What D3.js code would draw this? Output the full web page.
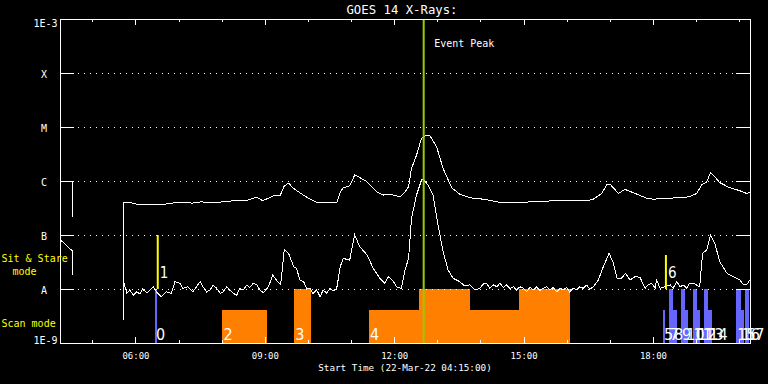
<!DOCTYPE html>
<html>
<head>
<meta charset="utf-8">
<script src="https://cdn.jsdelivr.net/npm/d3@7"></script>
<style>
  html, body { margin: 0; padding: 0; background: #000; }
  svg { display: block; }
</style>
</head>
<body>
<svg id="chart" width="768" height="384"></svg>
<script>
// GOES 14 X-ray flux, 22-Mar-22, with observation timeline underneath

const day = '2022-03-22';
const timeStart = '04:15';
const timeEnd = '20:15';
const eventPeak = '12:41';

// flare class levels
const classLabels = ['A', 'B', 'C', 'M', 'X'];
const classFlux = [1e-8, 1e-7, 1e-6, 1e-5, 1e-4];

// 1-8 A channel (null = data gap)
const longFlux = [
  ['04:15', 8.6e-7], ['04:16', 1.0e-6], ['04:32', 1.0e-6], ['04:33', 2.2e-7],
  null,
  ['05:43', 2.7e-9], ['05:44', 4.0e-7], ['05:52', 4.0e-7], ['06:02', 3.7e-7], ['06:16', 3.7e-7],
  ['06:34', 3.6e-7], ['06:52', 3.9e-7], ['06:57', 4.0e-7], ['07:20', 3.9e-7], ['07:30', 4.1e-7],
  ['07:53', 4.0e-7], ['08:16', 4.3e-7], ['08:35', 4.4e-7], ['08:49', 5.0e-7], ['08:57', 4.3e-7],
  ['09:12', 5.3e-7], ['09:21', 5.3e-7], ['09:27', 8.1e-7], ['09:33', 9.1e-7], ['09:40', 7.3e-7],
  ['09:49', 6.0e-7], ['10:03', 4.6e-7], ['10:12', 4.0e-7], ['10:40', 4.0e-7], ['10:45', 6.3e-7],
  ['10:49', 7.5e-7], ['10:58', 8.1e-7], ['11:05', 1.29e-6], ['11:10', 1.2e-6], ['11:22', 9.7e-7],
  ['11:36', 6.3e-7], ['11:45', 5.5e-7], ['11:54', 5.7e-7], ['12:08', 5.1e-7], ['12:15', 6.3e-7],
  ['12:20', 7.8e-7], ['12:24', 1.7e-6], ['12:31', 3.0e-6], ['12:38', 6.2e-6], ['12:43', 6.9e-6],
  ['12:50', 6.8e-6], ['12:59', 4.3e-6], ['13:08', 1.7e-6], ['13:20', 7.5e-7], ['13:31', 5.7e-7],
  ['13:45', 4.9e-7], ['14:04', 4.6e-7], ['14:13', 4.4e-7], ['14:27', 4.0e-7], ['14:50', 4.0e-7],
  ['15:09', 4.1e-7], ['15:41', 4.3e-7], ['16:28', 4.3e-7], ['16:37', 4.6e-7], ['16:49', 5.9e-7],
  ['16:56', 8.8e-7], ['17:01', 8.5e-7], ['17:12', 5.9e-7], ['17:21', 7.0e-7], ['17:35', 5.9e-7],
  ['17:51', 4.8e-7], ['18:00', 4.6e-7], ['18:24', 4.8e-7], ['18:51', 5.1e-7], ['19:01', 5.9e-7],
  ['19:08', 8.5e-7], ['19:15', 9.7e-7], ['19:20', 1.43e-6], ['19:26', 1.2e-6], ['19:33', 9.3e-7],
  ['19:47', 7.5e-7], ['20:01', 6.6e-7], ['20:10', 5.9e-7], ['20:15', 6.1e-7]
];

// 0.5-4 A channel
const shortFlux = [
  ['04:15', 8.1e-8], ['04:21', 7.1e-8], ['04:26', 6.0e-8], ['04:32', 5.1e-8], ['04:33', 1.8e-8],
  null,
  ['05:43', 5.1e-9], ['05:44', 1.3e-8], ['05:48', 8.4e-9], ['05:52', 9.6e-9], ['05:57', 7.7e-9],
  ['06:02', 8.9e-9], ['06:06', 8.1e-9], ['06:10', 9.9e-9], ['06:16', 8.5e-9], ['06:20', 9.6e-9],
  ['06:25', 1.1e-8], ['06:29', 8.9e-9], ['06:36', 7.2e-9], ['06:43', 8.9e-9], ['06:50', 8.3e-9],
  ['06:55', 1.37e-8], ['07:02', 1.28e-8], ['07:06', 1.03e-8], ['07:13', 1.1e-8], ['07:20', 8.9e-9],
  ['07:30', 1.37e-8], ['07:34', 1.1e-8], ['07:39', 8.8e-9], ['07:44', 9.6e-9], ['07:48', 1.19e-8],
  ['07:53', 1.03e-8], ['07:58', 8.3e-9], ['08:02', 8.9e-9], ['08:07', 1.1e-8], ['08:11', 9.6e-9],
  ['08:16', 8.3e-9], ['08:21', 7.7e-9], ['08:25', 1.03e-8], ['08:30', 9.6e-9], ['08:35', 1.19e-8],
  ['08:39', 1.07e-8], ['08:44', 1.28e-8], ['08:49', 1.19e-8], ['08:53', 9.6e-9], ['08:58', 8.5e-9],
  ['09:05', 1.1e-8], ['09:11', 1.8e-8], ['09:16', 1.47e-8], ['09:22', 1.19e-8], ['09:27', 5.3e-8],
  ['09:33', 4.6e-8], ['09:40', 2.6e-8], ['09:44', 2.4e-8], ['09:49', 1.47e-8], ['09:54', 1.37e-8],
  ['09:58', 1.03e-8], ['10:03', 1.03e-8], ['10:07', 8.3e-9], ['10:12', 9.6e-9], ['10:17', 7.2e-9],
  ['10:21', 9.6e-9], ['10:26', 8.4e-9], ['10:31', 1.03e-8], ['10:35', 9.2e-9], ['10:40', 1.03e-8],
  ['10:45', 2.6e-8], ['10:49', 3.7e-8], ['10:58', 3.4e-8], ['11:05', 1.0e-7], ['11:12', 6.1e-8],
  ['11:22', 4.3e-8], ['11:31', 2.4e-8], ['11:40', 1.58e-8], ['11:47', 1.28e-8], ['11:52', 1.69e-8],
  ['11:59', 1.37e-8], ['12:03', 1.1e-8], ['12:10', 1.03e-8], ['12:15', 2.25e-8], ['12:20', 3.7e-8],
  ['12:24', 2.0e-7], ['12:31', 5.5e-7], ['12:38', 1.04e-6], ['12:40', 1.09e-6], ['12:47', 8.4e-7],
  ['12:54', 5.5e-7], ['13:01', 1.53e-7], ['13:08', 4.9e-8], ['13:15', 2.25e-8], ['13:22', 1.58e-8],
  ['13:31', 1.37e-8], ['13:38', 1.14e-8], ['13:45', 1.19e-8], ['13:52', 9.6e-9], ['13:59', 1.03e-8],
  ['14:04', 1.24e-8], ['14:08', 1.28e-8], ['14:13', 1.04e-8], ['14:18', 1.19e-8], ['14:23', 1.1e-8],
  ['14:27', 1.28e-8], ['14:32', 1.07e-8], ['14:36', 1.19e-8], ['14:41', 1.03e-8], ['14:46', 1.1e-8],
  ['14:50', 9.6e-9], ['14:55', 1.1e-8], ['15:00', 1.03e-8], ['15:04', 8.9e-9], ['15:09', 1.07e-8],
  ['15:14', 9.6e-9], ['15:18', 1.1e-8], ['15:23', 9.2e-9], ['15:27', 1.03e-8], ['15:32', 1.1e-8],
  ['15:37', 9.6e-9], ['15:41', 1.07e-8], ['15:46', 8.9e-9], ['15:51', 1.03e-8], ['15:55', 9.6e-9],
  ['16:00', 1.07e-8], ['16:04', 8.8e-9], ['16:09', 1.03e-8], ['16:14', 9.6e-9], ['16:18', 1.1e-8],
  ['16:23', 1.03e-8], ['16:28', 1.19e-8], ['16:32', 9.9e-9], ['16:37', 1.1e-8], ['16:44', 1.47e-8],
  ['16:51', 2.6e-8], ['16:59', 4.6e-8], ['17:05', 3.0e-8], ['17:10', 1.58e-8], ['17:16', 1.58e-8],
  ['17:22', 1.95e-8], ['17:28', 1.47e-8], ['17:35', 1.69e-8], ['17:42', 1.65e-8], ['17:49', 1.03e-8],
  ['17:53', 1.19e-8], ['17:58', 1.28e-8], ['18:03', 1.04e-8], ['18:05', 1.47e-8], ['18:10', 1.03e-8],
  ['18:17', 1.1e-8], ['18:24', 1.19e-8], ['18:28', 1.03e-8], ['18:33', 1.37e-8], ['18:38', 1.1e-8],
  ['18:42', 1.19e-8], ['18:47', 1.04e-8], ['18:51', 1.28e-8], ['18:56', 1.28e-8], ['19:05', 1.1e-8],
  ['19:09', 4.6e-8], ['19:15', 5.3e-8], ['19:20', 1.0e-7], ['19:26', 7.0e-8], ['19:33', 3.2e-8],
  ['19:43', 1.95e-8], ['19:52', 1.69e-8], ['20:01', 1.47e-8], ['20:06', 1.19e-8], ['20:10', 1.19e-8],
  ['20:15', 1.47e-8]
];

// scan mode observations (extent = relative bar height in the scan band)
const scanObs = [
  { label: '2', start: '08:01', end: '09:03', extent: 0.61 },
  { label: '3', start: '09:41', end: '10:04', extent: 1 },
  { label: '4', start: '11:25', end: '12:34', extent: 0.61 },
  { label: '',  start: '12:34', end: '13:45', extent: 1 },
  { label: '',  start: '13:45', end: '14:54', extent: 0.61 },
  { label: '',  start: '14:54', end: '16:05', extent: 1 }
];

const shortObs = [
  { label: '0',  start: '06:27', end: '06:30', extent: 1 },
  { label: '5',  start: '18:14', end: '18:17', extent: 0.61 },
  { label: '7',  start: '18:22', end: '18:28', extent: 1 },
  { label: '8',  start: '18:28', end: '18:34', extent: 0.61 },
  { label: '9',  start: '18:39', end: '18:45', extent: 1 },
  { label: '10', start: '18:45', end: '18:49', extent: 0.61 },
  { label: '11', start: '18:55', end: '19:01', extent: 1 },
  { label: '12', start: '19:01', end: '19:06', extent: 0.61 },
  { label: '13', start: '19:11', end: '19:17', extent: 1 },
  { label: '14', start: '19:17', end: '19:22', extent: 0.61 },
  { label: '15', start: '19:56', end: '20:02', extent: 1 },
  { label: '16', start: '20:02', end: '20:07', extent: 0.61 },
  { label: '17', start: '20:08', end: '20:14', extent: 1 }
];

// sit & stare observations
const stareObs = [
  { label: '1', time: '06:31', extent: 1 },
  { label: '6', time: '18:18', extent: 0.63 }
];

// ---------------------------------------------------------------

const parseTime = d3.utcParse('%Y-%m-%d %H:%M');
const t = (s) => parseTime(`${day} ${s}`);

const mono = "'DejaVu Sans Mono', monospace";
const digitFont = "'Liberation Sans Narrow', 'DejaVu Sans Condensed', sans-serif";

const margin = { left: 60, right: 750, top: 19, bottom: 343 };

const x = d3.scaleTime()
  .domain([t(timeStart), t(timeEnd)])
  .range([margin.left, margin.right]);

const y = d3.scaleLog()
  .domain([1e-9, 1e-3])
  .range([margin.bottom, margin.top]);

// bands for the observation timeline
const scanBand = d3.scaleLinear().domain([0, 1]).range([y(1e-9), y(1e-8)]);
const stareBand = d3.scaleLinear().domain([0, 1]).range([y(1e-8), y(1e-7)]);

const svg = d3.select('#chart');
svg.append('rect').attr('width', 768).attr('height', 384).attr('fill', '#000');

// 1. Observation bars
const bars = svg.append('g').attr('shape-rendering', 'crispEdges');

bars.selectAll('rect.scan')
  .data(scanObs)
  .join('rect')
  .attr('class', 'scan')
  .attr('x', (d) => x(t(d.start)))
  .attr('width', (d) => x(t(d.end)) - x(t(d.start)))
  .attr('y', (d) => scanBand(d.extent))
  .attr('height', (d) => y(1e-9) - scanBand(d.extent))
  .attr('fill', '#ff8000');

bars.selectAll('rect.short')
  .data(shortObs)
  .join('rect')
  .attr('class', 'short')
  .attr('x', (d) => x(t(d.start)))
  .attr('width', (d) => x(t(d.end)) - x(t(d.start)))
  .attr('y', (d) => scanBand(d.extent))
  .attr('height', (d) => y(1e-9) - scanBand(d.extent))
  .attr('fill', '#6666ff');

// 2. Dotted class grid
svg.append('g')
  .selectAll('line')
  .data(classFlux)
  .join('line')
  .attr('x1', margin.left + 18)
  .attr('x2', margin.right - 14)
  .attr('y1', (d) => Math.round(y(d)) + 0.5)
  .attr('y2', (d) => Math.round(y(d)) + 0.5)
  .attr('stroke', '#fff')
  .attr('stroke-width', 1)
  .attr('stroke-dasharray', '1 5');

// 3. Flux curves
const line = d3.line()
  .defined((d) => d !== null)
  .x((d) => x(t(d[0])))
  .y((d) => y(d[1]));

svg.append('g')
  .attr('fill', 'none')
  .attr('stroke', '#fff')
  .attr('stroke-width', 1)
  .attr('shape-rendering', 'crispEdges')
  .selectAll('path')
  .data([longFlux, shortFlux])
  .join('path')
  .attr('d', line);

// 4. Sit & stare markers and event peak
svg.append('g')
  .selectAll('line')
  .data(stareObs)
  .join('line')
  .attr('x1', (d) => x(t(d.time)))
  .attr('x2', (d) => x(t(d.time)))
  .attr('y1', y(1e-8))
  .attr('y2', (d) => stareBand(d.extent))
  .attr('stroke', '#ffff00')
  .attr('stroke-width', 2);

svg.append('line')
  .attr('x1', x(t(eventPeak)))
  .attr('x2', x(t(eventPeak)))
  .attr('y1', margin.top)
  .attr('y2', margin.bottom)
  .attr('stroke', '#99cc00')
  .attr('stroke-width', 2);

// 5. Frame and axes
svg.append('rect')
  .attr('x', margin.left + 0.5)
  .attr('y', margin.top + 0.5)
  .attr('width', margin.right - margin.left)
  .attr('height', margin.bottom - margin.top)
  .attr('fill', 'none')
  .attr('stroke', '#fff')
  .attr('shape-rendering', 'crispEdges');

const hours = x.ticks(d3.utcHour.every(1));
const majorHours = hours.filter((d) => d.getUTCHours() % 3 === 0);
const fmt = d3.utcFormat('%H:%M');

const styleAxis = (g) => {
  g.select('.domain').remove();
  g.attr('color', '#fff').attr('shape-rendering', 'crispEdges');
};

svg.append('g')
  .attr('transform', `translate(0,${margin.bottom})`)
  .call(d3.axisBottom(x).tickValues(hours).tickSize(-3).tickFormat(''))
  .call(styleAxis);

svg.append('g')
  .attr('transform', `translate(0,${margin.bottom})`)
  .call(d3.axisBottom(x).tickValues(majorHours).tickSize(-6).tickFormat(fmt))
  .call(styleAxis)
  .call((g) => g.selectAll('text')
    .attr('y', 15.5)
    .attr('dy', null)
    .attr('fill', '#fff')
    .attr('font-family', mono)
    .attr('font-size', 9));

svg.append('g')
  .attr('transform', `translate(0,${margin.top})`)
  .call(d3.axisTop(x).tickValues(hours).tickSize(-3).tickFormat(''))
  .call(styleAxis);

svg.append('g')
  .attr('transform', `translate(0,${margin.top})`)
  .call(d3.axisTop(x).tickValues(majorHours).tickSize(-6).tickFormat(''))
  .call(styleAxis);

svg.append('g')
  .attr('transform', `translate(${margin.left},0)`)
  .call(d3.axisLeft(y).tickValues(classFlux).tickSize(-14).tickFormat((d, i) => classLabels[i]))
  .call(styleAxis)
  .call((g) => g.selectAll('text')
    .attr('x', -16)
    .attr('dy', null)
    .attr('y', 4.5)
    .attr('text-anchor', 'middle')
    .attr('fill', '#fff')
    .attr('font-family', mono)
    .attr('font-size', 10));

svg.append('g')
  .attr('transform', `translate(${margin.right},0)`)
  .call(d3.axisRight(y).tickValues(classFlux).tickSize(-14).tickFormat(''))
  .call(styleAxis);

// 6. Text
const text = (str, px, py, opts = {}) => svg.append('text')
  .attr('x', px)
  .attr('y', py)
  .attr('fill', opts.fill || '#fff')
  .attr('font-family', opts.font || mono)
  .attr('font-size', opts.size || 10)
  .attr('text-anchor', opts.anchor || 'start')
  .text(str);

text('1E-3', 57.5, y(1e-3) + 7.5, { anchor: 'end' });
text('1E-9', 57.5, y(1e-9) + 1, { anchor: 'end' });

text('GOES 14 X-Rays:', 402, 14, { anchor: 'middle', size: 12.3 });
text('Event Peak', x(t(eventPeak)) + 10.5, 46.5);
text('Start Time (22-Mar-22 04:15:00)', 405, 371, { anchor: 'middle', size: 9.3 });

text('Sit & Stare', 1.5, 262, { fill: '#ffff00' });
text('mode', 12.5, 275, { fill: '#ffff00' });
text('Scan mode', 1.5, 327, { fill: '#ffff00' });

// observation numbers
svg.append('g')
  .selectAll('text')
  .data([...scanObs, ...shortObs].filter((d) => d.label))
  .join('text')
  .attr('x', (d) => x(t(d.start)) + 1)
  .attr('y', 339.5)
  .attr('fill', '#fff')
  .attr('font-family', digitFont)
  .attr('font-size', 16)
  .text((d) => d.label);

svg.append('g')
  .selectAll('text')
  .data(stareObs)
  .join('text')
  .attr('x', (d) => x(t(d.time)) + 2)
  .attr('y', 277.5)
  .attr('fill', '#fff')
  .attr('font-family', digitFont)
  .attr('font-size', 15)
  .text((d) => d.label);
</script>
</body>
</html>
